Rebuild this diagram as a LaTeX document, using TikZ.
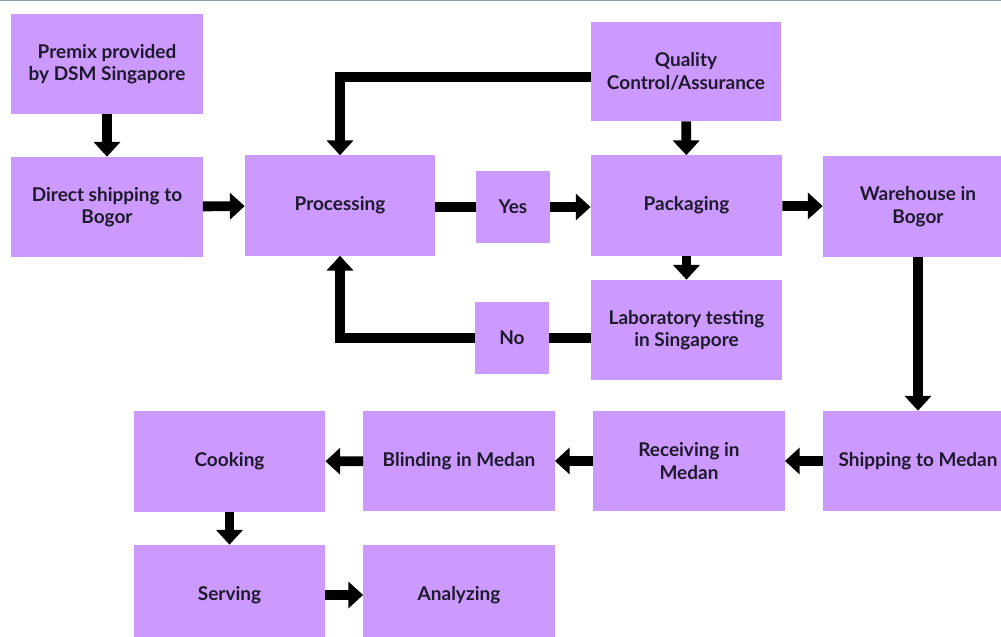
\documentclass[tikz,border=0pt]{standalone}
\usepackage{fontspec}
\setmainfont{Lato}
\usepackage{xcolor}
\usetikzlibrary{arrows.meta}
\definecolor{boxfill}{RGB}{204,153,255}
\definecolor{boxtext}{RGB}{30,26,44}
\definecolor{frameline}{RGB}{140,155,180}
\tikzset{
	procbox/.style={fill=boxfill, minimum width=4.78cm, minimum height=2.5cm, inner sep=0pt, align=center, text=boxtext, font=\fontsize{13.5}{16}\selectfont\bfseries},
	smallbox/.style={procbox, minimum width=1.85cm, minimum height=1.78cm},
	flow/.style={line width=7pt, -{Triangle[width=18.5pt,length=10.5pt]}},
	link/.style={line width=7pt}
}

\begin{document}
\begin{tikzpicture}[x=0.025cm, y=-0.025cm]
				\useasboundingbox (0,0) rectangle (1001,637);
				\clip (0,0) rectangle (1001,637);
				\draw[frameline, line width=1pt] (0,0.5)--(1001,0.5);
				\node[procbox] (premix) at (107,64) {Premix provided\\by DSM Singapore};
				\node[procbox] (direct) at (107,207) {Direct shipping to\\Bogor};
				\node[procbox, minimum width=4.75cm] (proc) at (340,205.5) {Processing};
				\node[smallbox] (yes) at (513,207) {Yes};
				\node[procbox, minimum width=4.75cm, minimum height=2.48cm] (qual) at (686,71.5) {Quality\\Control/Assurance};
				\node[procbox] (pack) at (686.5,205.5) {Packaging};
				\node[procbox, minimum width=4.75cm] (ware) at (918,206.5) {Warehouse in\\Bogor};
				\node[procbox] (lab) at (686.5,330) {Laboratory testing\\in Singapore};
				\node[smallbox] (no) at (512,338) {No};
				\node[procbox, minimum width=4.75cm] (ship) at (918,461) {Shipping to Medan};
				\node[procbox] (recv) at (689,461) {Receiving in\\Medan};
				\node[procbox] (blind) at (459,461) {Blinding in Medan};
				\node[procbox] (cook) at (229.5,461.5) {Cooking};
				\node[procbox] (serv) at (229.5,595) {Serving};
				\node[procbox] (anal) at (459,595) {Analyzing};
				\draw[flow] (premix)--(direct);
				\draw[flow] (direct)--(proc);
				\draw[flow] ([yshift=-0.14cm]qual.west)-|(proc.north);
				\draw[flow] (qual)--(pack);
				\draw[link] (proc.east |- yes)--(yes);
				\draw[flow] (yes)--(pack.west |- yes);
				\draw[flow] (pack)--(ware);
				\draw[flow] (pack)--(lab);
				\draw[link] (lab.west |- no)--(no);
				\draw[flow] (no.west)-|(proc.south);
				\draw[flow] (ware)--(ship);
				\draw[flow] (ship)--(recv);
				\draw[flow] (recv)--(blind);
				\draw[flow] (blind)--(cook);
				\draw[flow] (cook)--(serv);
				\draw[flow] (serv)--(anal);
				\end{tikzpicture}
\end{document}
